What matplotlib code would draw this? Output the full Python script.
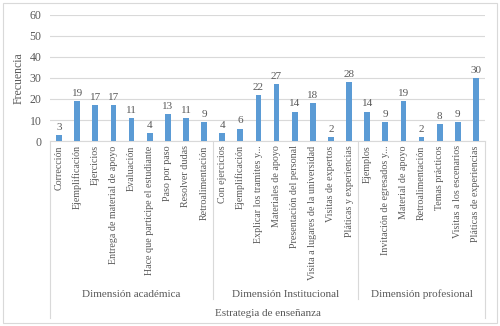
import numpy as np
import matplotlib.pyplot as plt

# Data
academica = ['Corrección', 'Ejemplificación', 'Ejercicios', 'Entrega de material de apoyo',
             'Evaluación', 'Hace que participe el estudiante', 'Paso por paso',
             'Resolver dudas', 'Retroalimentación']
academica_vals = [3, 19, 17, 17, 11, 4, 13, 11, 9]

institucional = ['Con ejercicios', 'Ejemplificación', 'Explicar los tramites y...',
                 'Materiales de apoyo', 'Presentación del personal',
                 'Visita a lugares de la universidad', 'Visitas de expertos',
                 'Pláticas y experiencias']
institucional_vals = [4, 6, 22, 27, 14, 18, 2, 28]

profesional = ['Ejemplos', 'Invitación de egresados y...', 'Material de apoyo',
               'Retroalimentación', 'Temas prácticos', 'Visitas a los escenarios',
               'Pláticas de experiencias']
profesional_vals = [14, 9, 19, 2, 8, 9, 30]

groups = ['Dimensión académica', 'Dimensión Institucional', 'Dimensión profesional']

plt.rcParams['font.family'] = ['Liberation Serif', 'DejaVu Serif']
gray = '#595959'
linec = '#D9D9D9'

labels = academica + institucional + profesional
values = academica_vals + institucional_vals + profesional_vals
sizes = [len(academica), len(institucional), len(profesional)]
x = np.arange(len(labels))

fig = plt.figure(figsize=(5, 3.26), dpi=100)
ax = fig.add_axes([0.1, 0.567, 0.87, 0.388])

ax.bar(x, values, width=0.32, color='#5B9BD5', zorder=3)
for xi, v in zip(x, values):
    ax.text(xi, v + 1.5, str(v), ha='center', va='bottom', fontsize=8, color=gray)

ax.set_xlim(-0.5, len(labels) - 0.5)
ax.set_ylim(0, 60)
ax.set_yticks(range(0, 61, 10))
ax.yaxis.grid(True, color=linec, linewidth=0.8, zorder=0)
for s in ['top', 'right', 'left']:
    ax.spines[s].set_visible(False)
ax.spines['bottom'].set_color(linec)
ax.tick_params(axis='y', length=0, labelsize=8.5, colors=gray, pad=6)
ax.tick_params(axis='x', length=0, pad=3)
ax.set_xticks(x)
ax.set_xticklabels(labels, rotation=90, fontsize=7.2, color=gray)
ax.set_ylabel('Frecuencia', fontsize=8.5, color=gray)

# multi-level category boxes
tr = ax.get_xaxis_transform()
bounds = np.concatenate([[0], np.cumsum(sizes)]) - 0.5
for i, b in enumerate(bounds):
    low = -1.40 if i in (0, len(bounds) - 1) else -1.25
    ax.plot([b, b], [0, low], transform=tr, color=linec, lw=0.8, clip_on=False)
for i, g in enumerate(groups):
    ax.text((bounds[i] + bounds[i + 1]) / 2, -1.21, g, transform=tr, ha='center',
            va='center', fontsize=8, color=gray)
ax.text((bounds[0] + bounds[-1]) / 2, -1.36, 'Estrategia de enseñanza', transform=tr,
        ha='center', va='center', fontsize=8, color=gray)

# outer chart border
fig.patches.append(plt.Rectangle((0.006, 0.009), 0.988, 0.982, transform=fig.transFigure,
                                 fill=False, edgecolor=linec, lw=0.8))

fig.savefig('out.png', dpi=100)
